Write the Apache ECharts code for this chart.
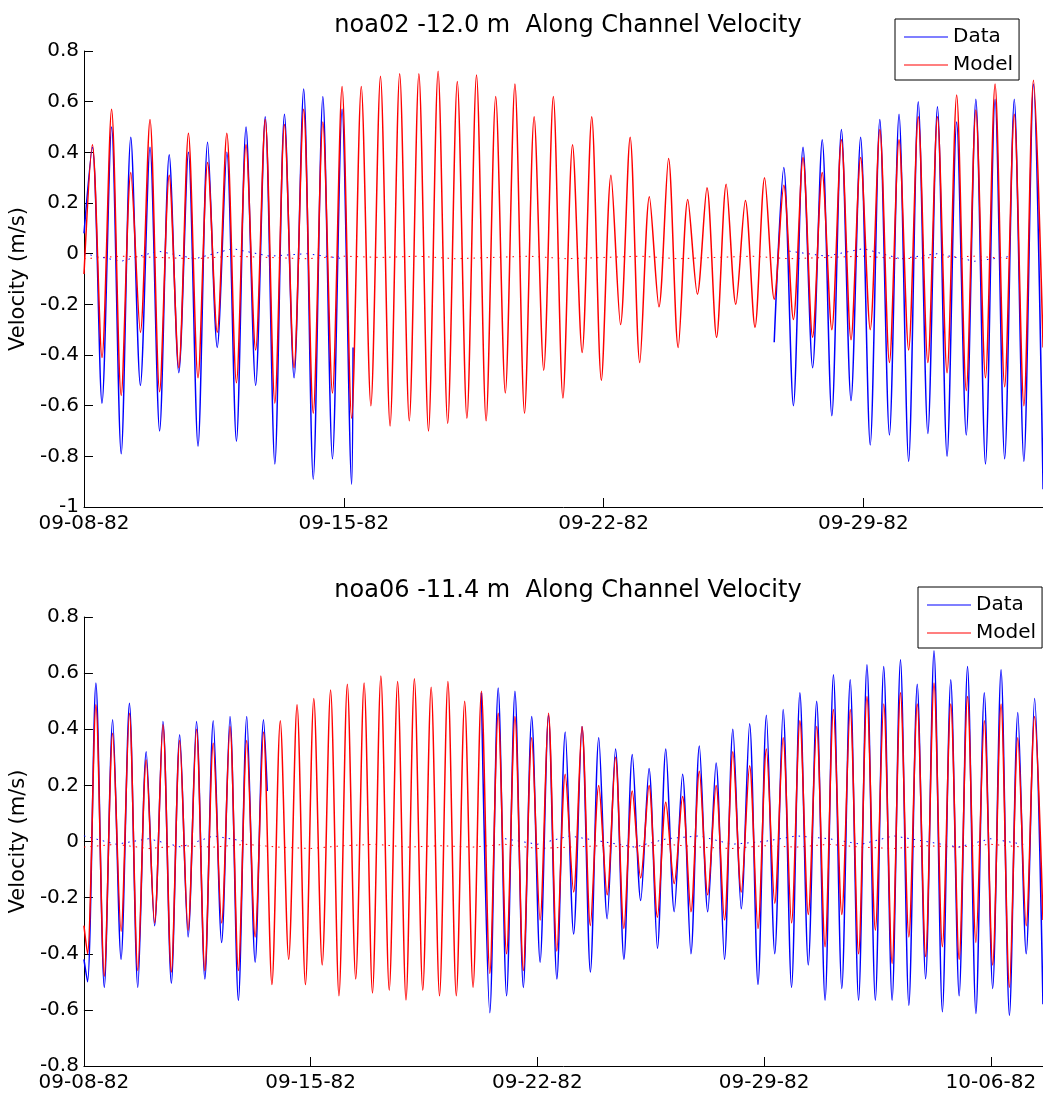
<!DOCTYPE html>
<html>
<head>
<meta charset="utf-8">
<script src="https://cdn.jsdelivr.net/npm/echarts@6/dist/echarts.min.js"></script>
<style>
html,body{margin:0;padding:0;background:#fff;}
#chart{width:1043px;height:1107px;}
</style>
</head>
<body>
<div id="chart"></div>
<script>
// ---------------- shared ----------------
const xTickLabels = ['09-08-82', '09-15-82', '09-22-82', '09-29-82', '10-06-82'];
const legendNames = ['Data', 'Model'];
const TIDE_PERIOD = 0.5175; // days between successive flood peaks (semidiurnal)

// ---------------- top panel: noa02 ----------------
const topTitle = 'noa02 -12.0 m  Along Channel Velocity';
const topDays = 25.84;          // x extent, days after 09-08-82
const topFirstPeak = 0.226;     // day of first flood peak
const topModelStart = -0.08;
const topModelPeaks = [
  0.43, 0.57, 0.32, 0.53, 0.31, 0.475, 0.36, 0.475, 0.43, 0.53,
  0.51, 0.57, 0.52, 0.66, 0.66, 0.70, 0.71, 0.71, 0.72, 0.68,
  0.705, 0.62, 0.67, 0.54, 0.62, 0.43, 0.54, 0.31, 0.46, 0.225,
  0.376, 0.214, 0.26, 0.274, 0.21, 0.30, 0.27, 0.38, 0.32, 0.45,
  0.38, 0.49, 0.45, 0.54, 0.54, 0.626, 0.567, 0.67, 0.55, 0.685
];
const topModelTroughs = [
  -0.41, -0.56, -0.31, -0.545, -0.45, -0.49, -0.31, -0.51, -0.38, -0.59,
  -0.45, -0.63, -0.55, -0.65, -0.60, -0.68, -0.66, -0.70, -0.67, -0.65,
  -0.66, -0.55, -0.63, -0.46, -0.57, -0.39, -0.50, -0.28, -0.43, -0.21,
  -0.37, -0.16, -0.33, -0.20, -0.29, -0.18, -0.26, -0.33, -0.30, -0.34,
  -0.30, -0.43, -0.38, -0.43, -0.47, -0.54, -0.49, -0.525, -0.60, -0.37
];
const topDataStart = 0.08;
const topDataPeaks = [
  0.42, 0.50, 0.46, 0.42, 0.39, 0.40, 0.44, 0.40, 0.50, 0.54,
  0.55, 0.65, 0.62, 0.57, null, null, null, null, null, null,
  null, null, null, null, null, null, null, null, null, null,
  null, null, null, null, null, null, 0.34, 0.42, 0.45, 0.49,
  0.46, 0.53, 0.55, 0.60, 0.58, 0.52, 0.61, 0.61, 0.61, 0.67
];
const topDataTroughs = [
  -0.59, -0.79, -0.52, -0.70, -0.47, -0.76, -0.37, -0.74, -0.52, -0.83,
  -0.49, -0.89, -0.81, -0.91, null, null, null, null, null, null,
  null, null, null, null, null, null, null, null, null, null,
  null, null, null, null, null, -0.35, -0.60, -0.45, -0.64, -0.58,
  -0.755, -0.716, -0.82, -0.71, -0.80, -0.716, -0.83, -0.81, -0.82, -0.93
];
const topDataGapEdges = [[7.25, -0.37]];
// low-pass (dotted) lines, one value per day
const topModelMean = [-0.02, -0.01, -0.015, -0.02, -0.01, -0.015, -0.02, -0.01, -0.015, -0.01,
  -0.02, -0.015, -0.01, -0.02, -0.015, -0.01, -0.02, -0.015, -0.01, -0.02,
  -0.015, -0.01, -0.02, -0.015, -0.01, -0.02];
const topDataMean = [0.0, -0.03, 0.01, -0.02, 0.02, -0.01, 0.0, -0.02,
  null, null, null, null, null, null, null, null, null, null, null,
  0.01, -0.01, 0.02, -0.02, 0.0, -0.03, -0.01];

// ---------------- bottom panel: noa06 ----------------
const botTitle = 'noa06 -11.4 m  Along Channel Velocity';
const botDays = 29.61;
const botFirstPeak = 0.37;
const botModelStart = -0.30;
const botModelPreTrough = -0.40;
const botModelPeaks = [
  0.487, 0.386, 0.457, 0.29, 0.416, 0.36, 0.40, 0.35, 0.41, 0.36,
  0.39, 0.43, 0.487, 0.51, 0.54, 0.56, 0.565, 0.59, 0.57, 0.58,
  0.55, 0.57, 0.50, 0.535, 0.457, 0.445, 0.37, 0.457, 0.24, 0.41,
  0.20, 0.30, 0.18, 0.20, 0.14, 0.16, 0.25, 0.20, 0.32, 0.27,
  0.33, 0.37, 0.43, 0.41, 0.47, 0.47, 0.517, 0.49, 0.53, 0.49,
  0.565, 0.49, 0.517, 0.43, 0.49, 0.37, 0.445
];
const botModelTroughs = [
  -0.48, -0.32, -0.46, -0.29, -0.465, -0.316, -0.46, -0.29, -0.46, -0.34,
  -0.51, -0.42, -0.51, -0.44, -0.55, -0.49, -0.54, -0.53, -0.565, -0.53,
  -0.55, -0.55, -0.52, -0.47, -0.40, -0.46, -0.28, -0.39, -0.18, -0.30,
  -0.19, -0.31, -0.13, -0.27, -0.15, -0.25, -0.19, -0.28, -0.18, -0.31,
  -0.22, -0.29, -0.26, -0.375, -0.26, -0.40, -0.316, -0.435, -0.34, -0.41,
  -0.375, -0.42, -0.36, -0.44, -0.52, -0.30, -0.28
];
const botDataStart = -0.42;
const botDataPreTrough = -0.50;
const botDataPeaks = [
  0.565, 0.434, 0.493, 0.32, 0.428, 0.38, 0.428, 0.43, 0.445, 0.445,
  0.434, null, null, null, null, null, null, null, null, null,
  null, null, null, 0.53, 0.547, 0.535, 0.445, 0.45, 0.39, 0.41,
  0.37, 0.33, 0.31, 0.26, 0.33, 0.24, 0.34, 0.28, 0.40, 0.42,
  0.45, 0.47, 0.53, 0.50, 0.594, 0.576, 0.63, 0.624, 0.648, 0.56,
  0.68, 0.576, 0.624, 0.53, 0.612, 0.46, 0.51
];
const botDataTroughs = [
  -0.52, -0.42, -0.52, -0.30, -0.505, -0.34, -0.49, -0.36, -0.566, -0.43,
  null, null, null, null, null, null, null, null, null, null,
  null, null, null, -0.61, -0.55, -0.52, -0.43, -0.49, -0.33, -0.465,
  -0.275, -0.42, -0.21, -0.38, -0.25, -0.40, -0.25, -0.42, -0.24, -0.51,
  -0.40, -0.52, -0.44, -0.566, -0.524, -0.566, -0.566, -0.566, -0.584, -0.489,
  -0.607, -0.55, -0.613, -0.524, -0.62, -0.40, -0.58
];
const botDataGapEdges = [[5.66, 0.18]];
const botModelMean = [-0.02, -0.01, -0.025, -0.015, -0.02, -0.01, -0.02, -0.025, -0.015, -0.01,
  -0.02, -0.015, -0.02, -0.01, -0.025, -0.02, -0.015, -0.02, -0.01, -0.02,
  -0.025, -0.015, -0.02, -0.01, -0.02, -0.025, -0.015, -0.02, -0.01, -0.02];
const botDataMean = [0.02, -0.01, 0.01, -0.02, 0.02, 0.0,
  null, null, null, null, null, null, null,
  0.01, -0.01, 0.02, 0.0, -0.02, 0.01, 0.02, -0.01, 0.0, 0.02, 0.01, -0.01, 0.02, 0.0, -0.02, 0.01, -0.01];

// ---------------- build series data ----------------
function tideSeries(firstPeak, start, preTrough, peaks, troughs, extra) {
  const pts = [];
  if (start !== null) pts.push([0, start]);
  if (preTrough !== null) pts.push([firstPeak - TIDE_PERIOD / 2, preTrough]);
  for (let k = 0; k < peaks.length; k++) {
    const t = firstPeak + k * TIDE_PERIOD;
    pts.push([t, peaks[k]]);
    pts.push([t + TIDE_PERIOD / 2, troughs[k]]);
  }
  (extra || []).forEach(p => pts.push(p));
  pts.sort((a, b) => a[0] - b[0]);
  return pts;
}
function dailySeries(vals) { return vals.map((v, i) => [i, v]); }

const FONT = 'DejaVu Sans';
const BLUE = '#0000ff';
const RED = '#ff0000';

function xAxisFor(gridIndex, max) {
  return {
    type: 'value', gridIndex, min: 0, max, interval: 7,
    axisLine: { show: true, onZero: false, lineStyle: { color: '#000', width: 1 } },
    axisTick: { show: true, inside: true, length: 9, lineStyle: { color: '#000' } },
    axisLabel: {
      color: '#000', fontFamily: FONT, fontSize: 20, margin: 7, showMaxLabel: false,
      formatter: v => { const i = Math.round(v / 7); return Math.abs(v - i * 7) < 1e-6 ? xTickLabels[i] : ''; }
    },
    splitLine: { show: false }
  };
}
function yAxisFor(gridIndex, min) {
  return {
    type: 'value', gridIndex, min, max: 0.8, interval: 0.2,
    name: 'Velocity (m/s)', nameLocation: 'middle', nameGap: 46, nameRotate: 90,
    nameTextStyle: { fontFamily: FONT, fontSize: 21, color: '#000' },
    axisLine: { show: true, onZero: false, lineStyle: { color: '#000', width: 1 } },
    axisTick: { show: true, inside: true, length: 9, lineStyle: { color: '#000' } },
    axisLabel: { color: '#000', fontFamily: FONT, fontSize: 20, margin: 5,
      formatter: v => String(+v.toFixed(1)) },
    splitLine: { show: false }
  };
}
function lineSeries(name, axis, data, color, dotted) {
  return {
    name, type: 'line', xAxisIndex: axis, yAxisIndex: axis, data,
    symbol: 'none', showSymbol: false, connectNulls: false, animation: false,
    smooth: dotted ? false : 0.3,
    lineStyle: { color, width: dotted ? 1 : 1.5, type: dotted ? [1.5, 5] : 'solid' },
    itemStyle: { color },
    emphasis: { disabled: true }, silent: true
  };
}
function legendFor(left, top) {
  return {
    data: legendNames, orient: 'vertical', left, top,
    icon: 'rect', padding: [8, 6, 5, 9], itemGap: 8, itemWidth: 44, itemHeight: 1.2,
    borderColor: '#000', borderWidth: 1, backgroundColor: '#fff',
    textStyle: { fontFamily: FONT, fontSize: 20, color: '#000' },
    selectedMode: false
  };
}

const option = {
  backgroundColor: '#fff',
  animation: false,
  title: [
    { text: topTitle, left: 568, top: 14, textAlign: 'center', padding: 0,
      textStyle: { fontFamily: FONT, fontSize: 24, fontWeight: 'normal', color: '#000' } },
    { text: botTitle, left: 568, top: 579, textAlign: 'center', padding: 0,
      textStyle: { fontFamily: FONT, fontSize: 24, fontWeight: 'normal', color: '#000' } }
  ],
  legend: [legendFor(895, 19), legendFor(918, 587)],
  grid: [
    { left: 84, right: 0, top: 51, height: 456 },
    { left: 83, right: 0, top: 617, height: 449 }
  ],
  xAxis: [xAxisFor(0, topDays), xAxisFor(1, botDays)],
  yAxis: [yAxisFor(0, -1), yAxisFor(1, -0.8)],
  series: [
    lineSeries('Model mean', 0, dailySeries(topModelMean), RED, true),
    lineSeries('Data mean', 0, dailySeries(topDataMean), BLUE, true),
    lineSeries('Data', 0, tideSeries(topFirstPeak, topDataStart, null, topDataPeaks, topDataTroughs, topDataGapEdges), BLUE, false),
    lineSeries('Model', 0, tideSeries(topFirstPeak, topModelStart, null, topModelPeaks, topModelTroughs, []), RED, false),
    lineSeries('Model mean', 1, dailySeries(botModelMean), RED, true),
    lineSeries('Data mean', 1, dailySeries(botDataMean), BLUE, true),
    lineSeries('Data', 1, tideSeries(botFirstPeak, botDataStart, botDataPreTrough, botDataPeaks, botDataTroughs, botDataGapEdges), BLUE, false),
    lineSeries('Model', 1, tideSeries(botFirstPeak, botModelStart, botModelPreTrough, botModelPeaks, botModelTroughs, []), RED, false)
  ]
};

const chart = echarts.init(document.getElementById('chart'), null, { renderer: 'canvas' });
chart.setOption(option);
</script>
</body>
</html>
